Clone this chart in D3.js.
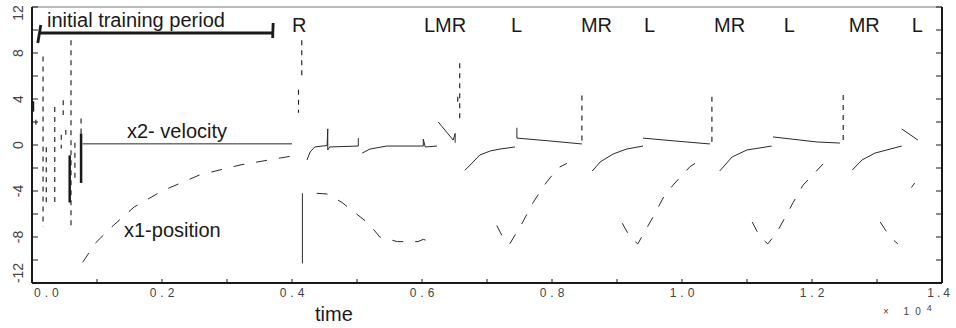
<!DOCTYPE html>
<html>
<head>
<meta charset="utf-8">
<script src="https://cdn.jsdelivr.net/npm/d3@7"></script>
<style>
body { margin: 0; background: #fff; }
svg { display: block; }
text { font-family: "Liberation Sans", Arial, sans-serif; }
</style>
</head>
<body>
<svg id="chart" width="956" height="328"></svg>
<script>
// time in units of 10^4 steps
const xTicks = [0, 0.2, 0.4, 0.6, 0.8, 1.0, 1.2, 1.4]
const xTickLabels = ["0.0", "0.2", "0.4", "0.6", "0.8", "1.0", "1.2", "1.4"]
const yTicks = [-12, -8, -4, 0, 4, 8, 12]

// x1 position, null = break in the trace
const position = [
    [0.078, -10.2], [0.098, -8.5], [0.125, -7.0], [0.157, -5.4], [0.2, -4.0],
    [0.258, -2.6], [0.32, -1.74], [0.382, -1.13], [0.40, -0.96], null,
    [0.438, -4.2], [0.454, -4.26], [0.462, -4.5], [0.477, -5.0], [0.515, -6.7],
    [0.522, -7.1], [0.535, -8.0], [0.562, -8.4], [0.594, -8.4], [0.602, -8.2], [0.609, -8.35], null,
    [0.715, -7.0], [0.725, -8.1], [0.735, -8.6], [0.755, -6.7], [0.771, -5.0],
    [0.788, -3.5], [0.809, -2.0], [0.823, -1.6], null,
    [0.908, -6.8], [0.92, -8.0], [0.932, -8.6], [0.955, -6.3], [0.971, -4.6],
    [0.986, -3.5], [1.012, -1.9], [1.02, -1.6], null,
    [1.108, -6.7], [1.12, -8.0], [1.132, -8.6], [1.146, -7.6], [1.171, -5.0],
    [1.186, -3.5], [1.217, -1.65], null,
    [1.305, -6.7], [1.32, -8.0], [1.332, -8.6], null,
    [1.353, -3.7], [1.358, -3.3]
]

// x2 velocity
const velocity = [
    [0.078, 0.1], [0.40, 0.1], null,
    [0.416, -4.2], [0.416, -10.3], null,
    [0.423, -1.3], [0.428, -0.6], [0.435, -0.17], [0.454, -0.04], [0.455, 1.4],
    [0.455, -0.43], [0.458, -0.17], [0.502, -0.09], [0.502, 0.6], null,
    [0.508, -0.7], [0.52, -0.35], [0.546, -0.09], [0.602, -0.09], [0.602, 0.5],
    [0.605, -0.17], [0.623, -0.09], null,
    [0.625, 2.0], [0.648, 0.43], [0.651, 1.0], [0.651, 0.2], null,
    [0.666, -2.2], [0.677, -1.57], [0.689, -0.87], [0.705, -0.52], [0.72, -0.35], [0.743, -0.17], null,
    [0.746, 1.5], [0.746, 0.6], [0.797, 0.35], [0.846, 0.09], null,
    [0.862, -2.26], [0.874, -1.48], [0.894, -0.78], [0.915, -0.35], [0.94, -0.09], null,
    [0.94, 0.6], [0.989, 0.35], [1.043, 0.09], null,
    [1.058, -2.26], [1.077, -1.04], [1.1, -0.43], [1.138, -0.09], null,
    [1.14, 0.7], [1.208, 0.26], [1.243, 0.17], null,
    [1.262, -2.17], [1.277, -1.3], [1.297, -0.7], [1.338, -0.09], null,
    [1.338, 1.4], [1.363, 0.43]
]

// fast velocity jumps: [t, high, low]
const jumps = [
    [0.006, 2.2, 1.4], [0.017, 7.7, -7.1], [0.022, -0.2, -5.0], [0.035, 3.3, -5.4],
    [0.045, 0.9, -0.3], [0.048, 3.9, 2.6], [0.052, 1.3, 0.9], [0.060, 9.1, -7.4],
    [0.066, 0.2, -3.0], [0.0755, 2.3, 1.0],
    [0.41, 4.8, 2.8], [0.415, 9.1, 5.9],
    [0.655, 4.2, 3.5], [0.658, 7.1, 1.9],
    [0.846, 4.3, 0.1], [1.046, 4.2, 0.1], [1.248, 4.35, 0.1]
]
const heavyJumps = [
    [0.0015, 3.8, 2.9], [0.058, -0.9, -5.0], [0.0755, 1.0, -3.3]
]

const eventTimes = [0.4015, 0.6046, 0.7385, 0.846, 0.943, 1.0508, 1.158, 1.258, 1.355]
const eventLabels = ["R", "LMR", "L", "MR", "L", "MR", "L", "MR", "L"]
const trainingPeriod = [0.012, 0.371]

const svg = d3.select("#chart")
const plotLeft = 32, plotRight = 942, plotTop = 7, plotBottom = 283

const x = d3.scaleLinear().domain([0, 1.4]).range([plotLeft, plotRight])
const y = d3.scaleLinear().domain([-12, 12]).range([plotBottom, plotTop])

const ink = "#1a1a1a"
const trace = "#2a2a2a"

// frame
svg.append("line").attr("x1", plotLeft).attr("x2", plotRight).attr("y1", plotTop).attr("y2", plotTop)
    .attr("stroke", "#777").attr("stroke-width", 1.2)
svg.append("line").attr("x1", plotLeft).attr("x2", plotLeft).attr("y1", plotTop).attr("y2", plotBottom)
    .attr("stroke", ink).attr("stroke-width", 2)
svg.append("line").attr("x1", plotRight).attr("x2", plotRight).attr("y1", plotTop).attr("y2", plotBottom)
    .attr("stroke", ink).attr("stroke-width", 2)
svg.append("line").attr("x1", plotLeft).attr("x2", plotRight).attr("y1", plotBottom).attr("y2", plotBottom)
    .attr("stroke", ink).attr("stroke-width", 2)

// y ticks, every 2, inward on both sides
const yMinor = d3.range(-12, 12.1, 2)
svg.append("g").selectAll("line")
    .data(yMinor)
    .join("line")
    .attr("x1", plotLeft).attr("x2", plotLeft + 6)
    .attr("y1", d => y(d)).attr("y2", d => y(d))
    .attr("stroke", ink).attr("stroke-width", 1)
svg.append("g").selectAll("line")
    .data(yMinor)
    .join("line")
    .attr("x1", plotRight - 6).attr("x2", plotRight)
    .attr("y1", d => y(d)).attr("y2", d => y(d))
    .attr("stroke", ink).attr("stroke-width", 1)

svg.append("g").selectAll("text")
    .data(yTicks)
    .join("text")
    .attr("transform", d => {
        let py = y(d)
        if (d === 12) py += 6
        if (d === -12) py -= 10
        return `translate(23,${py}) rotate(-90)`
    })
    .attr("text-anchor", "middle")
    .attr("font-size", 14)
    .attr("fill", "#444")
    .text(d => d)

// x ticks
svg.append("g").selectAll("line")
    .data(d3.range(0, 1.41, 0.1))
    .join("line")
    .attr("x1", d => x(d)).attr("x2", d => x(d))
    .attr("y1", plotBottom).attr("y2", plotBottom - 4)
    .attr("stroke", ink).attr("stroke-width", 1)

const lastTick = xTicks.length - 1
svg.append("g").selectAll("text")
    .data(xTicks)
    .join("text")
    .attr("x", (d, i) => i === lastTick ? 953 : x(d) + 2)
    .attr("y", 297)
    .attr("text-anchor", (d, i) => i === 0 ? "start" : i === lastTick ? "end" : "middle")
    .attr("font-family", "DejaVu Sans")
    .attr("font-size", 12)
    .attr("letter-spacing", (d, i) => i === lastTick ? 3 : 4)
    .attr("fill", "#444")
    .text((d, i) => xTickLabels[i])

svg.append("text")
    .attr("x", 883).attr("y", 315)
    .attr("font-family", "DejaVu Sans")
    .attr("font-size", 10)
    .attr("letter-spacing", 6)
    .attr("fill", "#444")
    .text("× 10")
    .append("tspan")
    .attr("dy", -4)
    .attr("font-size", 9)
    .text("4")

svg.append("text")
    .attr("x", 315).attr("y", 321)
    .attr("font-size", 20)
    .attr("fill", ink)
    .text("time")

// traces
const line = d3.line()
    .defined(d => d !== null)
    .x(d => x(d[0]))
    .y(d => y(d[1]))

svg.append("path")
    .datum(position)
    .attr("d", line)
    .attr("fill", "none")
    .attr("stroke", trace)
    .attr("stroke-width", 1)
    .attr("stroke-dasharray", "11,12")

svg.append("path")
    .datum(velocity)
    .attr("d", line)
    .attr("fill", "none")
    .attr("stroke", trace)
    .attr("stroke-width", 1)

svg.append("g").selectAll("line")
    .data(jumps)
    .join("line")
    .attr("x1", d => x(d[0])).attr("x2", d => x(d[0]))
    .attr("y1", d => y(d[1])).attr("y2", d => y(d[2]))
    .attr("stroke", trace)
    .attr("stroke-width", 1.2)
    .attr("stroke-dasharray", "5,5")

svg.append("g").selectAll("line")
    .data(heavyJumps)
    .join("line")
    .attr("x1", d => x(d[0])).attr("x2", d => x(d[0]))
    .attr("y1", d => y(d[1])).attr("y2", d => y(d[2]))
    .attr("stroke", ink)
    .attr("stroke-width", 2.5)

// annotations
const bracketY = 33
svg.append("line")
    .attr("x1", x(trainingPeriod[0])).attr("x2", x(trainingPeriod[1]))
    .attr("y1", bracketY).attr("y2", bracketY)
    .attr("stroke", ink).attr("stroke-width", 2.8)
svg.append("line")
    .attr("x1", x(trainingPeriod[0]) + 1).attr("x2", x(trainingPeriod[0]) - 2)
    .attr("y1", bracketY - 8).attr("y2", bracketY + 10)
    .attr("stroke", ink).attr("stroke-width", 2.8)
svg.append("line")
    .attr("x1", x(trainingPeriod[1])).attr("x2", x(trainingPeriod[1]) - 0.5)
    .attr("y1", bracketY - 10).attr("y2", bracketY + 5)
    .attr("stroke", ink).attr("stroke-width", 2.8)

svg.append("text")
    .attr("x", 47).attr("y", 27)
    .attr("font-size", 20)
    .attr("fill", ink)
    .text("initial training period")

svg.append("g").selectAll("text")
    .data(eventTimes)
    .join("text")
    .attr("x", d => x(d) - 1)
    .attr("y", 32)
    .attr("font-size", 20)
    .attr("fill", ink)
    .text((d, i) => eventLabels[i])

svg.append("text")
    .attr("x", 127).attr("y", 138)
    .attr("font-size", 20)
    .attr("fill", ink)
    .text("x2- velocity")

svg.append("text")
    .attr("x", 124).attr("y", 237)
    .attr("font-size", 20)
    .attr("fill", ink)
    .text("x1-position")
</script>
</body>
</html>
